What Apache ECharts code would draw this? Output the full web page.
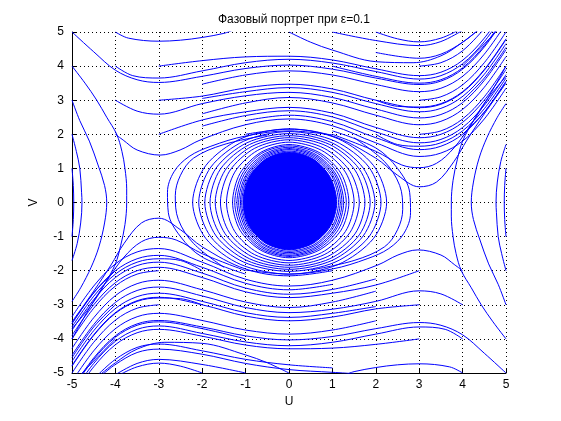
<!DOCTYPE html>
<html>
<head>
<meta charset="utf-8">
<script src="https://cdn.jsdelivr.net/npm/echarts@6/dist/echarts.min.js"></script>
<style>
  html, body { margin: 0; padding: 0; background: #fff; }
  #chart { width: 561px; height: 421px; }
</style>
</head>
<body>
<div id="chart"></div>
<script>
// axis ticks
const uTicks = [-5, -4, -3, -2, -1, 0, 1, 2, 3, 4, 5]
const vTicks = [-5, -4, -3, -2, -1, 0, 1, 2, 3, 4, 5]

// upper band, trajectories moving right (U, V)
const topCurves = [
  [[-4,5],[-3.7,4.82],[-3,4.73],[-2.5,4.76],[-2,4.84],[-1.5,4.96],[-1.3,5.05]],
  [[-5,5],[-4.5,4.42],[-4,3.88],[-3.5,3.6],[-3,3.52],[-2,3.7],[-1,3.93],[0,4.03],[1,3.91],[2,3.65],[3,3.46],[3.5,3.56],[4,3.91],[4.5,4.56],[5,5.46]],
  [[-4,4],[-3.6,3.72],[-3,3.65],[-2,3.86],[-1,4.1],[0,4.2],[1,4.09],[2,3.84],[3,3.62],[3.5,3.72],[4,4.07],[4.5,4.72],[5,5.62]],
  [[-3,4],[-2,4.16],[-1,4.27],[0,4.29],[1,4.18],[2,3.92],[3,3.72],[3.5,3.82],[4,4.17],[4.5,4.82],[5,5.72]],
  [[0,5],[0.5,4.7],[1,4.47],[2,4.13],[2.86,4.1],[3.5,4.3],[4,4.7],[4.4,5.1]],
  [[-4,3],[-3.5,2.68],[-3,2.59],[-2,2.9],[-1,3.13],[0,3.23],[1,3.08],[2,2.74],[3,2.48],[3.5,2.58],[4,2.93],[4.5,3.58],[5,4.48]],
  [[-2,3.47],[-1,3.74],[0,3.86],[1,3.74],[2,3.46],[3,3.25],[3.5,3.35],[4,3.7],[4.5,4.35],[5,5.25]],
  [[-3,3],[-2,3.12],[-1,3.36],[0,3.47],[1,3.33],[2,3.0],[3,2.78],[3.5,2.88],[4,3.23],[4.5,3.88],[5,4.78]],
  [[-2,3.05],[-1,3.25],[0,3.37],[1,3.23],[2,2.9],[3,2.66],[3.5,2.76],[4,3.11],[4.5,3.76],[5,4.66]],
  [[-2,2.6],[-1,2.92],[0,3.08],[1,2.92],[2,2.56],[3,2.28],[3.5,2.38],[4,2.73],[4.5,3.38],[5,4.28]],
  [[-3,2],[-2,2.42],[-1,2.66],[0,2.79],[1,2.62],[2,2.2],[3,1.9],[3.5,2.0],[4,2.35],[4.5,3.0],[5,3.9]],
  [[-2,2.24],[-1,2.55],[0,2.69],[1,2.51],[2,2.07],[3,1.75],[3.5,1.85],[4,2.2],[4.5,2.85],[5,3.75]],
  [[-1,2.4],[0,2.56],[1,2.37],[2,1.9],[3,1.55],[3.5,1.65],[4,2.0],[4.5,2.65],[5,3.55]],
  [[-4,2],[-3.82,1.83],[-3.5,1.54],[-2.97,1.39],[-2.51,1.54],[-2.05,1.83],[-1,2.28],[0,2.45],[1,2.25],[2,1.75],[3,1.35],[3.5,1.45],[4,1.8],[4.5,2.45],[5,3.35]],
  [[-1,2.0],[0,2.15],[1,1.95],[2,1.3],[2.5,0.8],[3,0.46],[3.4,0.6],[3.8,1.2],[4.1,1.83],[4.5,2.6],[5,3.5]],
  [[1,5],[2,4.75],[3,4.6],[3.5,4.72],[4,5.05]],
  [[2,5],[2.5,4.8],[3,4.71],[3.5,4.82],[3.9,5.05]],
  [[1,4],[2,3.7],[3,3.5],[3.5,3.6],[4,3.95],[4.5,4.6],[5,5.5]],
  [[2,4.4],[3,4.23],[3.5,4.35],[4,4.7],[4.4,5.1]],
  [[3,4],[3.5,4.1],[4,4.45],[4.5,5.1]],
  [[3,3],[3.5,3.1],[4,3.45],[4.5,4.1],[5,5.0]],
  [[3,2],[3.5,2.1],[4,2.45],[4.5,3.1],[5,4.0]],
  [[2,2],[2.5,1.7],[3,1.65],[3.5,1.75],[4,2.1],[4.5,2.75],[5,3.65]],
  [[4,4],[4.5,4.65],[4.8,5.05]],
  [[4,3],[4.5,3.65],[5,4.55]],
  [[4,2],[4.5,2.65],[5,3.55]],
  [[1,2.0],[2,1.5],[2.6,1.1],[3,1.02],[3.4,1.15],[3.8,1.6],[4.2,2.3],[4.6,3.1],[5,4.0]],
  [[2,3],[2.5,2.82],[3,2.8],[3.5,2.9],[4,3.25],[4.5,3.9],[5,4.8]]
]

// lower band, trajectories moving left
const bottomCurves = [
  [[4,-5],[3.7,-4.82],[3,-4.73],[2.5,-4.76],[2,-4.84],[1.5,-4.96],[1.3,-5.05]],
  [[5,-5],[4.5,-4.42],[4,-3.88],[3.5,-3.6],[3,-3.52],[2,-3.7],[1,-3.93],[0,-4.03],[-1,-3.91],[-2,-3.65],[-3,-3.46],[-3.5,-3.56],[-4,-3.91],[-4.5,-4.56],[-5,-5.46]],
  [[4,-4],[3.6,-3.72],[3,-3.65],[2,-3.86],[1,-4.1],[0,-4.2],[-1,-4.09],[-2,-3.84],[-3,-3.62],[-3.5,-3.72],[-4,-4.07],[-4.5,-4.72],[-5,-5.62]],
  [[3,-4],[2,-4.16],[1,-4.27],[0,-4.29],[-1,-4.18],[-2,-3.92],[-3,-3.72],[-3.5,-3.82],[-4,-4.17],[-4.5,-4.82],[-5,-5.72]],
  [[0,-5],[-0.5,-4.7],[-1,-4.47],[-2,-4.13],[-2.86,-4.1],[-3.5,-4.3],[-4,-4.7],[-4.4,-5.1]],
  [[4,-3],[3.5,-2.68],[3,-2.59],[2,-2.9],[1,-3.13],[0,-3.23],[-1,-3.08],[-2,-2.74],[-3,-2.48],[-3.5,-2.58],[-4,-2.93],[-4.5,-3.58],[-5,-4.48]],
  [[2,-3.47],[1,-3.74],[0,-3.86],[-1,-3.74],[-2,-3.46],[-3,-3.25],[-3.5,-3.35],[-4,-3.7],[-4.5,-4.35],[-5,-5.25]],
  [[3,-3],[2,-3.12],[1,-3.36],[0,-3.47],[-1,-3.33],[-2,-3.0],[-3,-2.78],[-3.5,-2.88],[-4,-3.23],[-4.5,-3.88],[-5,-4.78]],
  [[2,-3.05],[1,-3.25],[0,-3.37],[-1,-3.23],[-2,-2.9],[-3,-2.66],[-3.5,-2.76],[-4,-3.11],[-4.5,-3.76],[-5,-4.66]],
  [[2,-2.6],[1,-2.92],[0,-3.08],[-1,-2.92],[-2,-2.56],[-3,-2.28],[-3.5,-2.38],[-4,-2.73],[-4.5,-3.38],[-5,-4.28]],
  [[3,-2],[2,-2.42],[1,-2.66],[0,-2.79],[-1,-2.62],[-2,-2.2],[-3,-1.9],[-3.5,-2.0],[-4,-2.35],[-4.5,-3.0],[-5,-3.9]],
  [[2,-2.24],[1,-2.55],[0,-2.69],[-1,-2.51],[-2,-2.07],[-3,-1.75],[-3.5,-1.85],[-4,-2.2],[-4.5,-2.85],[-5,-3.75]],
  [[1,-2.4],[0,-2.56],[-1,-2.37],[-2,-1.9],[-3,-1.55],[-3.5,-1.65],[-4,-2.0],[-4.5,-2.65],[-5,-3.55]],
  [[4,-2],[3.82,-1.83],[3.5,-1.54],[2.97,-1.39],[2.51,-1.54],[2.05,-1.83],[1,-2.28],[0,-2.45],[-1,-2.25],[-2,-1.75],[-3,-1.35],[-3.5,-1.45],[-4,-1.8],[-4.5,-2.45],[-5,-3.35]],
  [[1,-2.0],[0,-2.15],[-1,-1.95],[-2,-1.3],[-2.5,-0.8],[-3,-0.46],[-3.4,-0.6],[-3.8,-1.2],[-4.1,-1.83],[-4.5,-2.6],[-5,-3.5]],
  [[-1,-5],[-2,-4.75],[-3,-4.6],[-3.5,-4.72],[-4,-5.05]],
  [[-2,-5],[-2.5,-4.8],[-3,-4.71],[-3.5,-4.82],[-3.9,-5.05]],
  [[-1,-4],[-2,-3.7],[-3,-3.5],[-3.5,-3.6],[-4,-3.95],[-4.5,-4.6],[-5,-5.5]],
  [[1.5,-5.02],[1,-4.98],[0,-4.9],[-1,-4.72],[-2,-4.45],[-3,-4.3],[-3.5,-4.4],[-4,-4.75],[-4.3,-5.05]],
  [[1,-4.85],[0,-4.76],[-1,-4.6],[-2,-4.35],[-3,-4.15],[-3.5,-4.25],[-4,-4.6],[-4.4,-5.05]],
  [[-3,-3],[-3.5,-3.1],[-4,-3.45],[-4.5,-4.1],[-5,-5.0]],
  [[-3,-2],[-3.5,-2.1],[-4,-2.45],[-4.5,-3.1],[-5,-4.0]],
  [[-2,-2],[-2.5,-1.7],[-3,-1.65],[-3.5,-1.75],[-4,-2.1],[-4.5,-2.75],[-5,-3.65]],
  [[-4,-4],[-4.5,-4.65],[-4.8,-5.05]],
  [[-4,-3],[-4.5,-3.65],[-5,-4.55]],
  [[-4,-2],[-4.5,-2.65],[-5,-3.55]],
  [[-1,-2.0],[-2,-1.5],[-2.6,-1.1],[-3,-1.02],[-3.4,-1.15],[-3.8,-1.6],[-4.2,-2.3],[-4.6,-3.1],[-5,-4.0]],
  [[-2,-3],[-2.5,-2.82],[-3,-2.8],[-3.5,-2.9],[-4,-3.25],[-4.5,-3.9],[-5,-4.8]]
]

// curves turning near the left and right edges
const sideCurves = [
  [[-5,4],[-4.7,3.5],[-4.43,3],[-4.2,2.5],[-3.97,2],[-3.85,1.5],[-3.78,1],[-3.74,0.4],[-3.74,0],[-3.78,-0.65],[-3.88,-1.27],[-4.0,-1.8],[-4.25,-2.4],[-4.55,-3.0],[-5,-3.7]],
  [[-5,3],[-4.82,2.4],[-4.6,1.8],[-4.4,1.1],[-4.25,0.5],[-4.2,0],[-4.25,-0.6],[-4.38,-1.3],[-4.56,-1.9],[-4.8,-2.5],[-5,-2.9]],
  [[-5,2],[-4.9,1.5],[-4.82,1.0],[-4.78,0.3],[-4.77,0],[-4.8,-0.6],[-4.88,-1.2],[-5,-1.7]],
  [[-5,1],[-4.97,0.5],[-4.96,0],[-4.97,-0.5],[-5,-1]],
  [[5,-4],[4.7,-3.5],[4.43,-3],[4.2,-2.5],[3.97,-2],[3.85,-1.5],[3.78,-1],[3.74,-0.4],[3.74,0],[3.78,0.65],[3.88,1.27],[4.0,1.8],[4.25,2.4],[4.55,3.0],[5,3.7]],
  [[5,-3],[4.82,-2.4],[4.6,-1.8],[4.4,-1.1],[4.25,-0.5],[4.2,0],[4.25,0.6],[4.38,1.3],[4.56,1.9],[4.8,2.5],[5,2.9]],
  [[5,-2],[4.9,-1.5],[4.82,-1.0],[4.78,-0.3],[4.77,0],[4.8,0.6],[4.88,1.2],[5,1.7]],
  [[5,-1],[4.97,-0.5],[4.96,0],[4.97,0.5],[5,1]]
]

// outer arms of the spiral
const armCurves = [
  [[-1,-2.1],[-2,-1.6],[-2.5,-1.0],[-2.78,-0.3],[-2.8,0.3],[-2.65,0.9],[-2.3,1.35],[-1.8,1.65],[-1,1.95],[0,2.1],[1,1.98]],
  [[-1.5,-1.9],[-2.2,-1.2],[-2.55,-0.5],[-2.62,0.2],[-2.5,0.8],[-2.2,1.3],[-1.5,1.7],[-0.5,1.98]],
  [[1,2.1],[2,1.6],[2.5,1.0],[2.78,0.3],[2.8,-0.3],[2.65,-0.9],[2.3,-1.35],[1.8,-1.65],[1,-1.95],[0,-2.1],[-1,-1.98]],
  [[1.5,1.9],[2.2,1.2],[2.55,0.5],[2.62,-0.2],[2.5,-0.8],[2.2,-1.3],[1.5,-1.7],[0.5,-1.98]]
]

// closed turns of the spiral around the origin
const rings = [
  [[1.14,0],[0.99,0.76],[0.57,1.31],[0,1.51],[-0.55,1.31],[-0.94,0.76],[-1.09,0],[-0.94,-0.72],[-0.55,-1.24],[0,-1.43],[0.57,-1.24],[0.99,-0.72]],
  [[1.18,0],[1.02,0.78],[0.59,1.34],[0,1.55],[-0.56,1.34],[-0.97,0.78],[-1.12,0],[-0.97,-0.74],[-0.56,-1.27],[0,-1.47],[0.59,-1.27],[1.02,-0.74]],
  [[1.22,0],[1.06,0.79],[0.61,1.37],[0,1.58],[-0.58,1.37],[-1.0,0.79],[-1.16,0],[-1.0,-0.76],[-0.58,-1.31],[0,-1.51],[0.61,-1.31],[1.06,-0.76]],
  [[1.26,0],[1.09,0.81],[0.63,1.4],[0,1.62],[-0.6,1.4],[-1.04,0.81],[-1.2,0],[-1.04,-0.78],[-0.6,-1.34],[0,-1.55],[0.63,-1.34],[1.09,-0.78]],
  [[1.32,0],[1.14,0.83],[0.66,1.44],[0,1.66],[-0.63,1.44],[-1.08,0.83],[-1.25,0],[-1.08,-0.79],[-0.63,-1.37],[0,-1.58],[0.66,-1.37],[1.14,-0.79]],
  [[1.38,0],[1.2,0.85],[0.69,1.47],[0,1.7],[-0.65,1.47],[-1.13,0.85],[-1.3,0],[-1.13,-0.81],[-0.65,-1.4],[0,-1.62],[0.69,-1.4],[1.2,-0.81]],
  [[1.5,0],[1.3,0.89],[0.75,1.53],[0,1.77],[-0.72,1.53],[-1.25,0.89],[-1.44,0],[-1.25,-0.85],[-0.72,-1.47],[0,-1.7],[0.75,-1.47],[1.3,-0.85]],
  [[1.62,0],[1.4,0.92],[0.81,1.59],[0,1.84],[-0.79,1.59],[-1.37,0.92],[-1.58,0],[-1.37,-0.89],[-0.79,-1.53],[0,-1.77],[0.81,-1.53],[1.4,-0.89]],
  [[1.75,0],[1.52,0.95],[0.88,1.65],[0,1.9],[-0.85,1.65],[-1.47,0.95],[-1.7,0],[-1.47,-0.92],[-0.85,-1.59],[0,-1.84],[0.88,-1.59],[1.52,-0.92]],
  [[1.87,0],[1.62,0.98],[0.94,1.7],[0,1.96],[-0.91,1.7],[-1.58,0.98],[-1.82,0],[-1.58,-0.95],[-0.91,-1.65],[0,-1.9],[0.94,-1.65],[1.62,-0.95]],
  [[1.98,0],[1.71,1.01],[0.99,1.75],[0,2.02],[-0.97,1.75],[-1.68,1.01],[-1.94,0],[-1.68,-0.98],[-0.97,-1.7],[0,-1.96],[0.99,-1.7],[1.71,-0.98]],
  [[2.12,0],[1.84,1.04],[1.06,1.8],[0,2.08],[-1.04,1.8],[-1.8,1.04],[-2.08,0],[-1.8,-1.01],[-1.04,-1.75],[0,-2.02],[1.06,-1.75],[1.84,-1.01]],
  [[2.25,0],[1.95,1.08],[1.13,1.87],[0,2.16],[-1.11,1.87],[-1.92,1.08],[-2.22,0],[-1.92,-1.05],[-1.11,-1.82],[0,-2.1],[1.13,-1.82],[1.95,-1.05]]
]

// dense core of the spiral (outline)
const core = [[1.1,0],[0.95,0.74],[0.55,1.28],[0,1.48],[-0.53,1.28],[-0.92,0.74],[-1.06,0],[-0.92,-0.7],[-0.53,-1.2],[0,-1.39],[0.55,-1.2],[0.95,-0.7]]

const blue = '#0000ff'

const chart = echarts.init(document.getElementById('chart'))

const lineSeries = [...topCurves, ...bottomCurves, ...sideCurves, ...armCurves].map((c) => ({
  type: 'line',
  data: c,
  showSymbol: false,
  smooth: 0.35,
  silent: true,
  clip: true,
  lineStyle: { color: blue, width: 1 },
}))

const ringSeries = {
  type: 'custom',
  silent: true,
  clip: true,
  data: rings.map((r, i) => [0, 0, i]),
  renderItem: (params, api) => ({
    type: 'polygon',
    shape: { points: rings[params.dataIndex].map((p) => api.coord(p)), smooth: 0.3 },
    style: { fill: 'none', stroke: blue, lineWidth: 1 },
  }),
}

const coreSeries = {
  type: 'custom',
  silent: true,
  data: [[0, 0]],
  renderItem: (params, api) => ({
    type: 'polygon',
    shape: { points: core.map((p) => api.coord(p)), smooth: 0.3 },
    style: { fill: blue, stroke: blue, lineWidth: 1 },
  }),
}

const axisFont = { fontFamily: 'Liberation Sans, Arial, sans-serif', fontSize: 12, color: '#000' }

const option = {
  animation: false,
  backgroundColor: '#fff',
  title: {
    text: 'Фазовый портрет при ε=0.1',
    left: 213,
    top: 9,
    textStyle: { fontFamily: 'Liberation Sans, Arial, sans-serif', fontSize: 12, fontWeight: 'normal', color: '#000' },
  },
  grid: { left: 72, right: 55, top: 32, bottom: 48 },
  xAxis: {
    type: 'value',
    min: -5,
    max: 5,
    interval: 1,
    name: 'U',
    nameLocation: 'middle',
    nameGap: 22,
    nameTextStyle: axisFont,
    axisLine: { onZero: false, lineStyle: { color: '#000', width: 1 } },
    axisTick: { inside: true, length: 4, lineStyle: { color: '#000' } },
    axisLabel: { ...axisFont, margin: 6, formatter: (v) => (uTicks.includes(v) ? String(v) : '') },
    splitLine: { show: true, lineStyle: { color: '#000', type: [1, 3], width: 1 } },
  },
  yAxis: {
    type: 'value',
    min: -5,
    max: 5,
    interval: 1,
    name: 'V',
    nameLocation: 'middle',
    nameGap: 32,
    nameRotate: 90,
    nameTextStyle: axisFont,
    axisLine: { onZero: false, lineStyle: { color: '#000', width: 1 } },
    axisTick: { inside: true, length: 4, lineStyle: { color: '#000' } },
    axisLabel: { ...axisFont, margin: 8, formatter: (v) => (vTicks.includes(v) ? String(v) : '') },
    splitLine: { show: true, lineStyle: { color: '#000', type: [1, 3], width: 1 } },
  },
  series: [...lineSeries, ringSeries, coreSeries],
}

chart.setOption(option)
</script>
</body>
</html>
